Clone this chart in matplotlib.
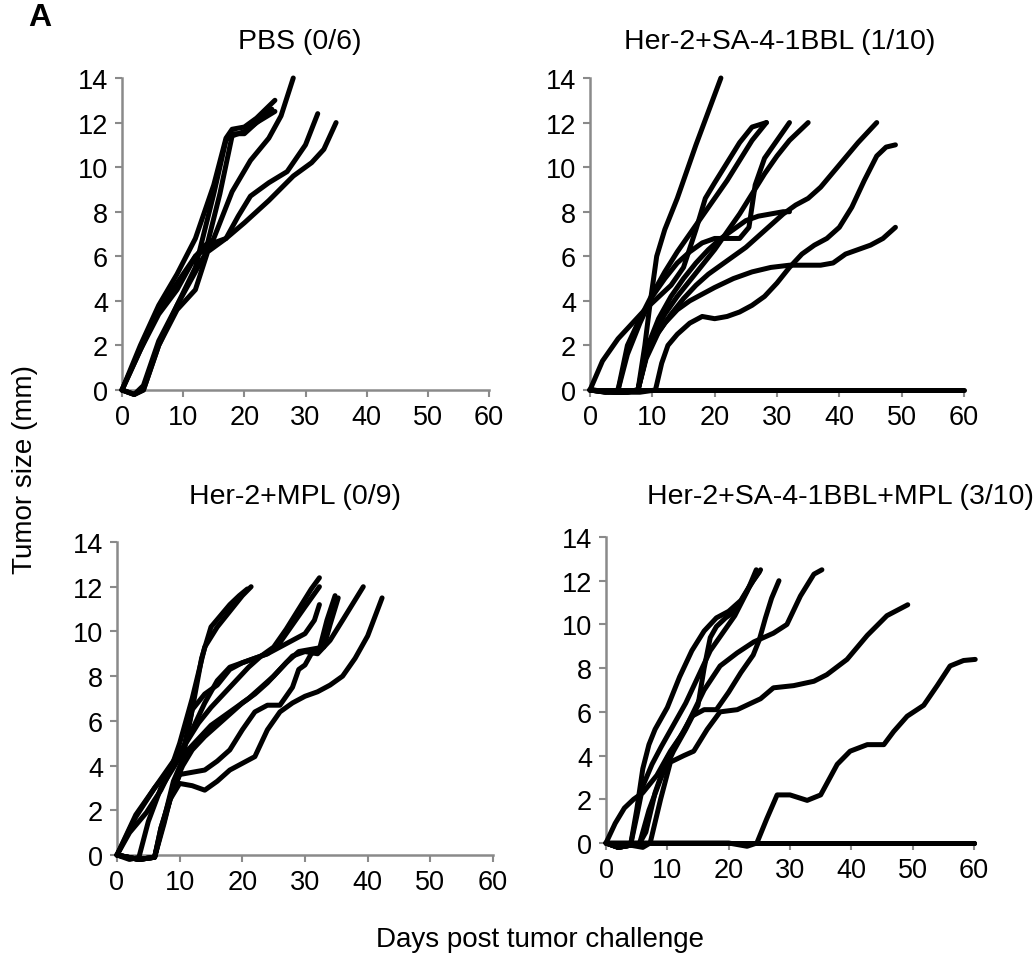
import matplotlib
matplotlib.use("Agg")
import matplotlib.pyplot as plt

plt.rcParams.update({
    "font.family": ["Liberation Sans", "DejaVu Sans"],
    "font.size": 19,
})

W, H = 1036, 970
GREY = "#8a8a8a"

# ---------------------------------------------------------------- data
# PBS (0/6)
pbs_x = [
    [0, 3, 6, 9, 12, 15, 17, 18, 20, 22, 25],
    [0, 2, 3.5, 6, 9, 12, 15, 17, 18, 20, 22, 25],
    [0, 2, 3.5, 6, 9, 12, 15, 18, 21, 24, 26, 28],
    [0, 3, 6, 9, 12, 15, 17, 19, 21, 24, 27, 30, 32],
    [0, 2, 3.5, 6, 9, 12, 14, 17, 20, 24, 28, 31, 33, 35],
    [0, 3, 6, 9, 12, 14, 16, 18, 20, 22, 24.5],
]
pbs_y = [
    [0, 2, 3.8, 5.2, 6.8, 9.2, 11.3, 11.7, 11.8, 12.2, 13.0],
    [0, -0.2, 0, 2, 3.8, 5.5, 8.8, 11.2, 11.5, 11.5, 12.0, 12.5],
    [0, -0.2, 0.2, 2.2, 3.8, 5.3, 6.8, 8.9, 10.3, 11.3, 12.3, 14.0],
    [0, 1.8, 3.6, 4.8, 6.0, 6.6, 6.8, 7.8, 8.7, 9.3, 9.8, 11.0, 12.4],
    [0, -0.2, 0, 2, 3.6, 4.5, 6.2, 6.8, 7.5, 8.5, 9.6, 10.2, 10.8, 12.0],
    [0, 1.8, 3.4, 4.5, 6.0, 6.6, 8.8, 11.4, 11.6, 12.0, 12.6],
]

# Her-2+SA-4-1BBL (1/10)
sa_x = [
    [0, 3, 6, 7.7, 8.8, 9.6, 10.7, 12, 14, 17, 21],
    [0, 2, 4.5, 8.8, 13, 15, 17, 18.5, 20, 22, 24, 26, 28.3],
    [0, 2.5, 4.5, 6, 8, 10, 12, 14, 16, 18, 20, 22, 24, 26, 28.3],
    [0, 2.5, 4.5, 6, 8, 10, 12, 14, 16, 18, 20, 22, 24, 25.5, 26.5, 28, 30, 32],
    [0, 5, 7.7, 9, 10.5, 12, 14, 16, 18, 20, 22, 24, 26, 28, 30, 32, 35],
    [0, 5, 7.7, 9, 11, 13, 15, 17, 19, 21, 23, 25, 27, 29, 31, 32],
    [0, 5, 7.7, 9, 11, 13, 15, 17, 19, 21, 23, 25, 27, 29, 31, 33, 35, 37, 40, 43, 46],
    [0, 4, 8, 10.5, 11.5, 12.5, 14, 16, 18, 20, 22, 24, 26, 28, 30, 32, 34, 36, 38, 40,
     42, 44, 46, 47.5, 49],
    [0, 3, 6, 7.7, 9, 10.5, 12, 14, 16, 18, 20, 23, 26, 29, 32, 35, 37, 39, 41, 43, 45,
     47, 49],
    [0, 60],
]
sa_y = [
    [0, -0.1, -0.1, 0, 2, 3.8, 6.0, 7.2, 8.6, 11.0, 14.0],
    [0, 1.3, 2.3, 3.6, 4.7, 5.5, 7.2, 8.6, 9.3, 10.2, 11.1, 11.8, 12.0],
    [0, -0.1, 0, 2, 3.2, 4.3, 5.3, 6.2, 7.0, 7.8, 8.6, 9.4, 10.3, 11.2, 12.0],
    [0, -0.1, 0, 1.6, 3.0, 4.2, 5.0, 5.7, 6.2, 6.6, 6.8, 6.8, 6.8, 7.3, 9.2, 10.4, 11.2,
     12.0],
    [0, -0.1, 0, 1.5, 2.6, 3.4, 4.2, 4.9, 5.6, 6.3, 7.1, 7.9, 8.8, 9.7, 10.5, 11.2, 12.0],
    [0, -0.1, 0, 1.8, 3.2, 4.2, 5.0, 5.7, 6.3, 6.8, 7.2, 7.6, 7.8, 7.9, 8.0, 8.0],
    [0, -0.1, 0, 1.4, 2.6, 3.4, 4.1, 4.7, 5.2, 5.6, 6.0, 6.4, 6.9, 7.4, 7.9, 8.3, 8.6,
     9.1, 10.1, 11.1, 12.0],
    [0, -0.1, -0.1, 0, 1.2, 2.0, 2.5, 3.0, 3.3, 3.2, 3.3, 3.5, 3.8, 4.2, 4.8, 5.5, 6.1,
     6.5, 6.8, 7.3, 8.2, 9.4, 10.5, 10.9, 11.0],
    [0, -0.1, -0.1, 0, 1.5, 2.4, 3.0, 3.6, 4.0, 4.3, 4.6, 5.0, 5.3, 5.5, 5.6, 5.6, 5.6,
     5.7, 6.1, 6.3, 6.5, 6.8, 7.3],
    [0, 0],
]

# Her-2+MPL (0/9)
mpl_x = [
    [0, 2, 4.7, 7, 8.4, 10, 12, 14, 16, 18, 20, 21.4],
    [0, 2, 3.5, 5, 7, 9, 10.5, 12, 13.5, 15, 16.5, 18, 19.5, 20.8],
    [0, 3, 5, 7, 9, 11, 13, 15, 17, 19, 21, 23, 25, 27, 29, 31, 32.3],
    [0, 3.5, 6, 7, 8.5, 10, 12, 14, 16, 18, 20, 22, 24, 26, 28, 30, 32.3],
    [0, 3.5, 6, 7.5, 9, 11, 13, 15, 17, 19, 21, 23, 25, 27, 29, 31, 33, 34, 35.3],
    [0, 3.5, 6, 7.5, 9, 10.5, 12, 14, 16, 18, 20, 22, 24, 26, 28, 30, 32, 34, 36, 39.3],
    [0, 3.5, 6, 7, 8.5, 10, 12, 14, 16, 18, 20, 22, 24, 26, 28, 30, 32, 34, 36, 38, 40,
     42.3],
    [0, 3.5, 6, 7, 8.5, 10, 12, 14, 16, 18, 20, 22, 24, 26, 28, 29, 30, 31, 32.3, 33.5,
     34.8],
    [0, 3, 6, 8, 10, 12, 14, 16, 18, 20, 22, 24, 26, 28, 30, 31.5, 32.3],
]
mpl_y = [
    [0, 1.0, 1.9, 2.9, 3.7, 5.0, 7.0, 9.3, 10.2, 10.9, 11.6, 12.0],
    [0, -0.2, -0.1, 1.5, 3.0, 3.9, 4.6, 6.5, 8.8, 10.2, 10.7, 11.2, 11.6, 11.9],
    [0, 1.8, 2.6, 3.4, 4.2, 5.0, 5.9, 6.6, 7.2, 7.8, 8.4, 8.9, 9.3, 10.1, 11.0, 11.9, 12.4],
    [0, -0.2, -0.1, 1.2, 2.5, 3.6, 6.5, 7.2, 7.6, 8.3, 8.6, 8.8, 9.0, 9.5, 10.3, 11.1,
     12.0],
    [0, -0.2, -0.1, 1.6, 3.3, 4.6, 5.2, 5.8, 6.2, 6.6, 7.0, 7.5, 8.0, 8.6, 9.1, 9.2, 9.3,
     10.3, 11.5],
    [0, -0.2, -0.1, 1.4, 3.1, 4.0, 4.7, 5.3, 5.8, 6.3, 6.8, 7.2, 7.7, 8.3, 8.9, 9.1, 9.0,
     9.6, 10.5, 12.0],
    [0, -0.2, -0.1, 1.0, 2.5, 3.2, 3.1, 2.9, 3.3, 3.8, 4.1, 4.4, 5.6, 6.4, 6.8, 7.1, 7.3,
     7.6, 8.0, 8.8, 9.8, 11.5],
    [0, -0.2, -0.1, 1.2, 2.6, 3.6, 3.7, 3.8, 4.2, 4.7, 5.6, 6.4, 6.7, 6.7, 7.5, 8.3, 8.5,
     9.0, 9.2, 10.5, 11.6],
    [0, 1.7, 3.0, 3.7, 4.5, 5.6, 6.8, 7.8, 8.4, 8.6, 8.8, 9.0, 9.3, 9.6, 9.9, 10.5, 11.2],
]

# Her-2+SA-4-1BBL+MPL (3/10)
combo_x = [
    [0, 2, 4, 5, 6, 7, 8, 10, 12, 14, 16, 18, 20, 22, 23.5, 25.2],
    [0, 2, 4, 5.5, 7, 9, 11, 13, 15, 16, 17, 18, 19.5, 21, 22.5, 24, 25],
    [0, 2, 4, 5.5, 6.5, 8, 10, 12, 14, 16, 18, 20, 22, 24, 25, 26, 27, 28.2],
    [0, 1.5, 3, 4.5, 6, 8.3, 10.5, 12.7, 16, 18.6, 21.4, 24.1, 27.3, 29.5, 31.7, 33.9,
     35.2],
    [0, 2, 4, 6, 7.2, 8.9, 10.5, 12.7, 14.3, 16.5, 18.6, 21.4, 25.2, 27.3, 30.6, 33.9,
     36, 39.3, 42.6, 45.8, 49.2],
    [0, 10, 20, 23, 24.6, 26.2, 27.9, 30, 32.8, 35, 37.7, 39.8, 42.6, 45.3, 46.9, 49.1,
     51.8, 54, 56.1, 58.3, 60.2],
    [0, 2, 4, 5, 6, 7.5, 9, 11, 13, 15, 17, 19, 21, 23, 24.5],
    [0, 60],
    [0, 60],
    [0, 60],
]
combo_y = [
    [0, -0.2, -0.1, 1.5, 3.4, 4.5, 5.2, 6.2, 7.6, 8.8, 9.7, 10.3, 10.6, 11.1, 11.8, 12.5],
    [0, -0.2, -0.1, 0, 1.5, 3.0, 4.2, 5.2, 6.3, 8.0, 9.4, 9.9, 10.3, 10.6, 11.3, 12.0,
     12.4],
    [0, -0.2, -0.1, 0, 0.5, 2.3, 3.9, 4.8, 5.8, 6.1, 6.1, 6.9, 7.8, 8.6, 9.3, 10.3, 11.2,
     12.0],
    [0, 0.9, 1.6, 2.0, 2.3, 3.1, 4.2, 5.1, 7.0, 8.1, 8.7, 9.2, 9.6, 10.0, 11.3, 12.3,
     12.5],
    [0, -0.2, -0.1, -0.2, 0, 2.0, 3.7, 4.0, 4.2, 5.2, 6.0, 6.1, 6.6, 7.1, 7.2, 7.4, 7.7,
     8.4, 9.5, 10.4, 10.9],
    [0, 0, 0, -0.15, 0, 1.1, 2.2, 2.2, 1.95, 2.2, 3.6, 4.2, 4.5, 4.5, 5.1, 5.8, 6.3, 7.2,
     8.1, 8.35, 8.4],
    [0, -0.2, -0.1, 1.2, 2.6, 3.6, 4.4, 5.4, 6.4, 7.6, 8.8, 9.6, 10.4, 11.5, 12.5],
    [0, 0],
    [0, 0],
    [0, 0],
]

panels = [
    ("PBS (0/6)", pbs_x, pbs_y),
    ("Her-2+SA-4-1BBL (1/10)", sa_x, sa_y),
    ("Her-2+MPL (0/9)", mpl_x, mpl_y),
    ("Her-2+SA-4-1BBL+MPL (3/10)", combo_x, combo_y),
]

# axes boxes in pixels: left, right, top, bottom(y=0)
boxes = [(122, 489, 79, 391), (590, 964, 79, 391),
         (117, 493, 543, 856), (606, 974, 538, 844)]
title_pos = [(300, 42), (780, 42), (295, 497), (840, 497)]


def fx(px):
    return px / W


def fy(py):
    return 1 - py / H


fig = plt.figure(figsize=(W / 100, H / 100), dpi=100)
fig.patch.set_facecolor("white")

for (title, xs, ys), (l, r, t, b), (tx, ty) in zip(panels, boxes, title_pos):
    ax = fig.add_axes([fx(l), fy(b), (r - l) / W, (b - t) / H])
    for x, y in zip(xs, ys):
        ax.plot(x, y, color="black", lw=3.6, solid_capstyle="round",
                solid_joinstyle="round", clip_on=False, zorder=3)
    ax.set_xlim(0, 60)
    ax.set_ylim(0, 14)
    ax.set_xticks(range(0, 61, 10))
    ax.set_yticks(range(0, 15, 2))
    for side in ("top", "right"):
        ax.spines[side].set_visible(False)
    for side in ("left", "bottom"):
        ax.spines[side].set_color(GREY)
        ax.spines[side].set_linewidth(1.8)
    ax.tick_params(direction="out", length=5, width=1.5, color=GREY,
                   labelsize=19.5, pad=5)
    fig.text(fx(tx), fy(ty), title, ha="center", va="center", fontsize=20.5)

fig.text(fx(40), fy(18), "A", ha="center", va="center", fontsize=23,
         fontweight="bold")
fig.text(fx(25), fy(470), "Tumor size (mm)", ha="center", va="center",
         rotation=90, fontsize=20)
fig.text(fx(540), fy(940), "Days post tumor challenge", ha="center",
         va="center", fontsize=20)

fig.savefig("out.png", dpi=100, facecolor="white")
